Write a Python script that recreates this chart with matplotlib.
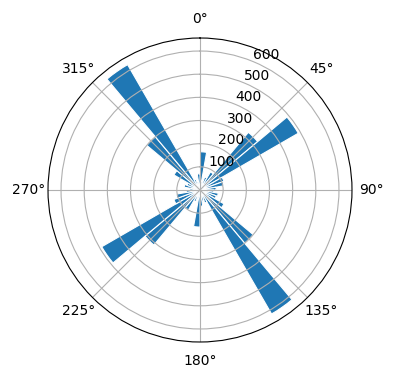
import numpy as np
import matplotlib.pyplot as plt

# bin centres in degrees (10 degree bins) and counts
bin_deg = np.arange(5, 360, 10)
counts = [165, 40, 60, 90, 325, 490, 110, 105, 70,
          60, 80, 75, 120, 300, 618, 60, 50, 70,
          160, 40, 55, 100, 310, 490, 120, 105, 60,
          45, 70, 60, 130, 300, 625, 50, 40, 70]

fig = plt.figure(figsize=(3.96, 3.8), dpi=100)
ax = fig.add_axes([0.1212, 0.1, 0.7677, 0.8], projection='polar')
ax.set_theta_zero_location('N')
ax.set_theta_direction(-1)

width = np.deg2rad(10)
ax.bar(np.deg2rad(bin_deg), counts, width=width, color='#1f77b4',
       edgecolor='white', linewidth=0.8)

fig.savefig('out.png', dpi=100)
